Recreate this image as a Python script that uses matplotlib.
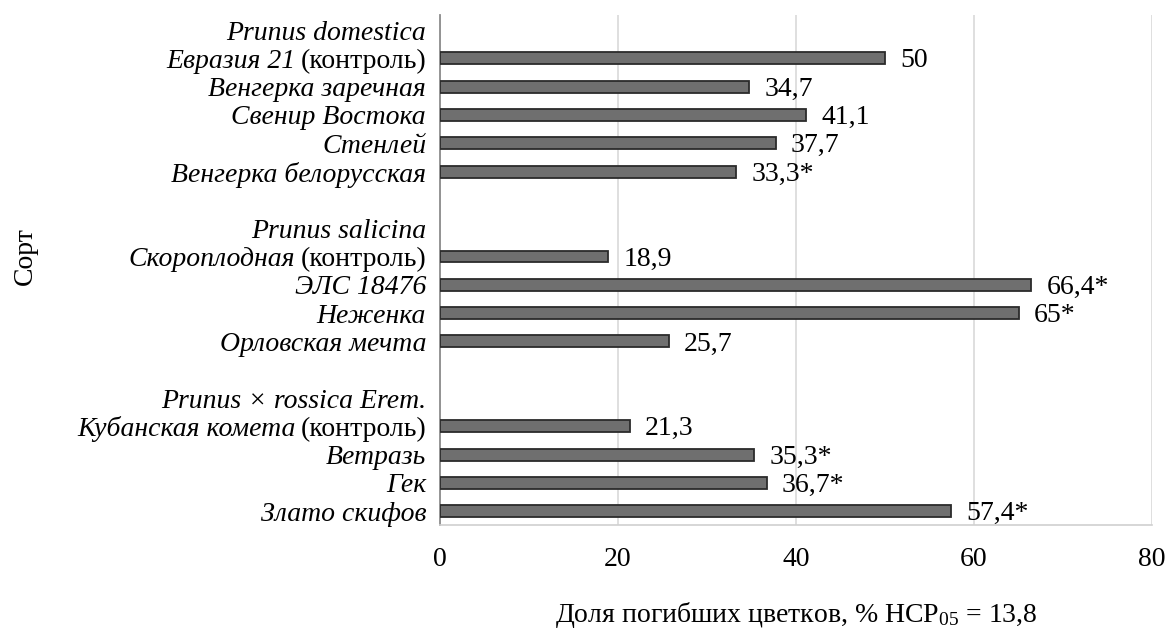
import matplotlib.pyplot as plt
from matplotlib.transforms import ScaledTranslation

plt.rcParams['font.family'] = ['Liberation Serif', 'DejaVu Serif']
plt.rcParams['mathtext.fontset'] = 'custom'
plt.rcParams['mathtext.rm'] = 'Liberation Serif'
plt.rcParams['mathtext.it'] = 'Liberation Serif:italic'

# groups: species header, cultivars, values, significance marks
domestica_names = ['Евразия 21', 'Венгерка заречная', 'Свенир Востока', 'Стенлей', 'Венгерка белорусская']
domestica_values = [50, 34.7, 41.1, 37.7, 33.3]
domestica_marks = ['', '', '', '', '*']

salicina_names = ['Скороплодная', 'ЭЛС 18476', 'Неженка', 'Орловская мечта']
salicina_values = [18.9, 66.4, 65, 25.7]
salicina_marks = ['', '*', '*', '']

rossica_names = ['Кубанская комета', 'Ветразь', 'Гек', 'Злато скифов']
rossica_values = [21.3, 35.3, 36.7, 57.4]
rossica_marks = ['', '*', '*', '*']

groups = [
    ('Prunus domestica', domestica_names, domestica_values, domestica_marks),
    ('Prunus salicina', salicina_names, salicina_values, salicina_marks),
    ('Prunus × rossica Erem.', rossica_names, rossica_values, rossica_marks),
]

# build the row list (header rows and blank rows have no bar)
rows = []
for gi, (header, names, values, marks) in enumerate(groups):
    if gi > 0:
        rows.append(('', None, '', False))
    rows.append((header, None, '', False))
    for i, (n, v, m) in enumerate(zip(names, values, marks)):
        rows.append((n, v, m, i == 0))

fig = plt.figure(figsize=(11.72, 6.29), dpi=100)
ax = fig.add_axes([0.3754, 0.165, 0.6076, 0.811])

fs = 20
ypos = list(range(len(rows)))
labels = []
for y, (name, val, mark, control) in zip(ypos, rows):
    # control rows: tick label holds only "(контроль)", the name is added later
    labels.append('(контроль)' if control else name)
    if val is not None:
        ax.barh(y, val, height=0.42, color='#6f6f6f', edgecolor='#2b2b2b', linewidth=1.3, zorder=3)
        txt = f'{val:g}'.replace('.', ',') + mark
        ax.annotate(txt, (val, y), xytext=(11, -6.5), textcoords='offset points',
                    va='baseline', ha='left', fontsize=fs)

ax.set_yticks(ypos)
ax.set_yticklabels(labels, fontsize=fs)
for lab, (name, val, mark, control) in zip(ax.get_yticklabels(), rows):
    if not control:
        lab.set_fontstyle('italic')

ax.set_ylim(len(rows) - 1 + 0.495, -0.53)
ax.set_xlim(0, 80)
ax.set_xticks([0, 20, 40, 60, 80])
ax.tick_params(axis='both', length=0, labelsize=fs)
ax.tick_params(axis='x', pad=16)
ax.tick_params(axis='y', pad=10)

ax.grid(axis='x', color='#d9d9d9', linewidth=1.2, zorder=0)
ax.spines['top'].set_visible(False)
ax.spines['right'].set_visible(False)
ax.spines['left'].set_color('#8c8c8c')
ax.spines['left'].set_linewidth(1.3)
ax.spines['bottom'].set_color('#d0d0d0')
ax.spines['bottom'].set_linewidth(1.2)

ax.set_xlabel(r'Доля погибших цветков, % НСР$_{\mathrm{05}}$ = 13,8', fontsize=fs, labelpad=20)
fig.text(0.022, 0.593, 'Сорт', rotation=90, fontsize=fs, ha='center', va='center')

# italic cultivar names to the left of "(контроль)"
fig.canvas.draw()
renderer = fig.canvas.get_renderer()
for lab, y, (name, val, mark, control) in zip(ax.get_yticklabels(), ypos, rows):
    if control:
        bb = lab.get_window_extent(renderer)
        dx = (bb.x0 - ax.bbox.x0 - 5) / fig.dpi
        tr = ax.get_yaxis_transform() + ScaledTranslation(dx, 0, fig.dpi_scale_trans)
        ax.text(0, y, name, transform=tr, ha='right', va='center_baseline',
                fontsize=fs, fontstyle='italic', clip_on=False)

fig.savefig('out.png', dpi=100)
